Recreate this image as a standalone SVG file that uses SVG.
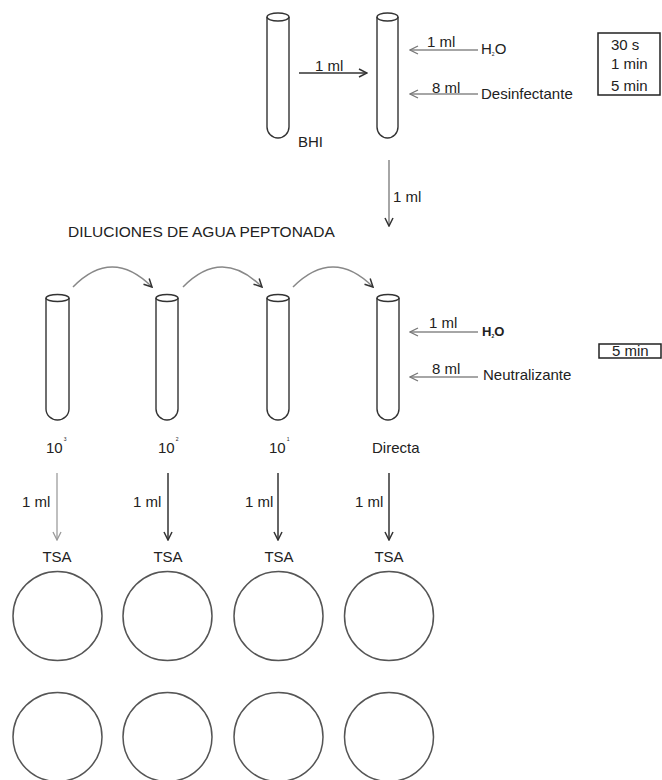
<svg xmlns="http://www.w3.org/2000/svg" width="662" height="780" viewBox="0 0 662 780">
<style>
text{font-family:"Liberation Sans",Arial,sans-serif;font-size:15px;fill:#222}
.tube{fill:none;stroke:#333;stroke-width:1.4}
.ga{fill:none;stroke:#888;stroke-width:1.5}
.da{fill:none;stroke:#333;stroke-width:1.5}
.la{fill:none;stroke:#aaa;stroke-width:1.5}
.plate{fill:none;stroke:#555;stroke-width:1.5}
.box{fill:none;stroke:#222;stroke-width:1.5}
.sm{font-size:5px}
.mid{text-anchor:middle}
</style>
<defs>
<marker id="ag" viewBox="0 0 10 10" refX="9" refY="5" markerWidth="10" markerHeight="10" markerUnits="userSpaceOnUse" orient="auto"><path d="M1,1 L9,5 L1,9" fill="none" stroke="#777" stroke-width="1.3"/></marker>
<marker id="ad" viewBox="0 0 10 10" refX="9" refY="5" markerWidth="10" markerHeight="10" markerUnits="userSpaceOnUse" orient="auto"><path d="M1,1 L9,5 L1,9" fill="none" stroke="#333" stroke-width="1.5"/></marker>
<marker id="al" viewBox="0 0 10 10" refX="9" refY="5" markerWidth="10" markerHeight="10" markerUnits="userSpaceOnUse" orient="auto"><path d="M1,1 L9,5 L1,9" fill="none" stroke="#999" stroke-width="1.3"/></marker>
</defs>

<g id="tube-bhi">
<path class="tube" d="M267,17 L267,127 A11,11 0 0 0 289,127 L289,17"/>
<ellipse class="tube" cx="278" cy="17" rx="11" ry="4"/>
<text x="298" y="147">BHI</text>
</g>
<g id="tube-test">
<path class="tube" d="M377,17 L377,127 A10.5,11 0 0 0 398,127 L398,17"/>
<ellipse class="tube" cx="387.5" cy="17" rx="10.5" ry="4"/>
</g>
<g id="label-h2o-top"><text x="481" y="54">H<tspan class="sm" dy="2">2</tspan><tspan dy="-2">O</tspan></text></g>
<g id="label-desinfectante"><text x="481" y="99">Desinfectante</text></g>
<g id="box-times">
<rect class="box" x="598" y="33" width="62" height="62"/>
<text x="611" y="50">30 s</text>
<text x="611" y="69">1 min</text>
<text x="611" y="91">5 min</text>
</g>

<g id="title"><text x="68" y="237" style="font-size:15.5px">DILUCIONES DE AGUA PEPTONADA</text></g>

<g id="tube-d3">
<path class="tube" d="M46,298 L46,409 A11.5,11 0 0 0 69,409 L69,298"/>
<ellipse class="tube" cx="57.5" cy="298" rx="11.5" ry="3.5"/>
<text x="46" y="453">10<tspan class="sm" dx="1" dy="-12">3</tspan></text>
</g>
<g id="tube-d2">
<path class="tube" d="M156,298 L156,409 A11,11 0 0 0 178,409 L178,298"/>
<ellipse class="tube" cx="167" cy="298" rx="11" ry="3.5"/>
<text x="158" y="453">10<tspan class="sm" dx="1" dy="-12">2</tspan></text>
</g>
<g id="tube-d1">
<path class="tube" d="M267,298 L267,409 A11,11 0 0 0 289,409 L289,298"/>
<ellipse class="tube" cx="278" cy="298" rx="11" ry="3.5"/>
<text x="269" y="453">10<tspan class="sm" dx="1" dy="-12">1</tspan></text>
</g>
<g id="tube-directa">
<path class="tube" d="M377,298 L377,409 A11,11 0 0 0 399,409 L399,298"/>
<ellipse class="tube" cx="388" cy="298" rx="11" ry="3.5"/>
<text x="372" y="453">Directa</text>
</g>
<g id="label-h2o-bottom"><text x="482" y="336" style="font-size:13px;font-weight:bold">H<tspan class="sm" dy="2">2</tspan><tspan dy="-2">O</tspan></text></g>
<g id="label-neutralizante"><text x="483" y="380">Neutralizante</text></g>
<g id="box-5min">
<rect class="box" x="599" y="344" width="62" height="14"/>
<text x="612" y="356">5 min</text>
</g>

<g id="plates-row1">
<circle class="plate" cx="57.5" cy="616" r="44.5"/>
<circle class="plate" cx="167.5" cy="616" r="44.5"/>
<circle class="plate" cx="278.5" cy="616" r="44.5"/>
<circle class="plate" cx="389" cy="616" r="44.5"/>
</g>
<g id="plates-row2">
<circle class="plate" cx="57.5" cy="737" r="44.5"/>
<circle class="plate" cx="167.5" cy="737" r="44.5"/>
<circle class="plate" cx="278.5" cy="737" r="44.5"/>
<circle class="plate" cx="389" cy="737" r="44.5"/>
</g>
<g id="tsa-labels">
<text class="mid" x="57" y="562">TSA</text>
<text class="mid" x="168" y="562">TSA</text>
<text class="mid" x="279" y="562">TSA</text>
<text class="mid" x="389" y="562">TSA</text>
</g>

<g id="connectors">
<line class="da" x1="299" y1="73" x2="367" y2="73" marker-end="url(#ad)"/>
<text x="315" y="71">1 ml</text>
<line class="ga" x1="478" y1="50" x2="410" y2="50" marker-end="url(#ag)"/>
<text x="427" y="47">1 ml</text>
<line class="ga" x1="478" y1="94" x2="410" y2="94" marker-end="url(#ag)"/>
<text x="432" y="93">8 ml</text>
<line class="ga" x1="389" y1="160" x2="389" y2="226" marker-end="url(#ad)"/>
<text x="393" y="202">1 ml</text>
<path class="ga" d="M73,287 Q112,247 152,287" marker-end="url(#ad)"/>
<path class="ga" d="M183,287 Q222,247 262,287" marker-end="url(#ad)"/>
<path class="ga" d="M293,287 Q333,247 373,287" marker-end="url(#ad)"/>
<line class="ga" x1="478" y1="332" x2="410" y2="332" marker-end="url(#ag)"/>
<text x="429" y="328">1 ml</text>
<line class="ga" x1="478" y1="377" x2="410" y2="377" marker-end="url(#ag)"/>
<text x="432" y="374">8 ml</text>
<line class="la" x1="57" y1="473" x2="57" y2="540" marker-end="url(#al)"/>
<text x="22" y="507">1 ml</text>
<line class="da" x1="168" y1="473" x2="168" y2="540" marker-end="url(#ad)"/>
<text x="133" y="507">1 ml</text>
<line class="da" x1="278" y1="473" x2="278" y2="540" marker-end="url(#ad)"/>
<text x="245" y="507">1 ml</text>
<line class="da" x1="389" y1="473" x2="389" y2="540" marker-end="url(#ad)"/>
<text x="355" y="507">1 ml</text>
</g>
</svg>
